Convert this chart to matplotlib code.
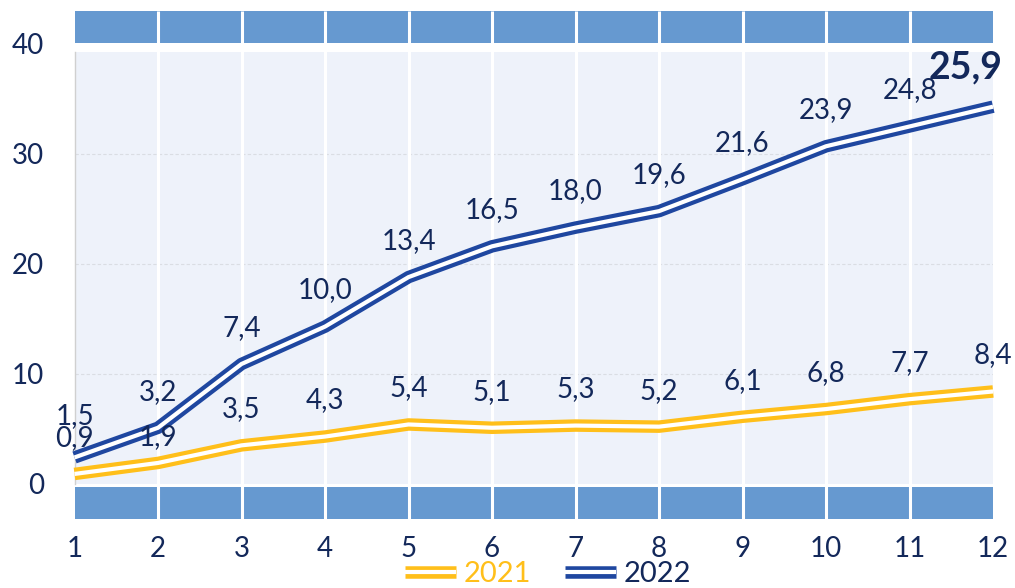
import matplotlib
matplotlib.use("Agg")
import matplotlib.pyplot as plt
import numpy as np
from matplotlib.legend_handler import HandlerTuple

plt.rcParams['font.family'] = ['Lato', 'DejaVu Sans']

# data
months = [1, 2, 3, 4, 5, 6, 7, 8, 9, 10, 11, 12]
v2021 = [0.9, 1.9, 3.5, 4.3, 5.4, 5.1, 5.3, 5.2, 6.1, 6.8, 7.7, 8.4]
v2022 = [1.5, 3.2, 7.4, 10.0, 13.4, 16.5, 18.0, 19.6, 21.6, 23.9, 24.8, 25.9]
yticks = [0, 10, 20, 30, 40]

# 2022 is stacked on top of 2021
stack2022 = np.add(v2021, v2022)

yellow = '#FFBF1A'
blue = '#1F47A0'
navy = '#13285A'
band = '#6699D0'
lav = '#EEF2FA'

fig = plt.figure(figsize=(10.15, 5.88), dpi=100)
ax = fig.add_axes([0.0734, 0.1173, 0.905, 0.864])
ax.set_xlim(1, 12)
ax.set_ylim(-3.2, 43)

ax.axhspan(0, 39.3, color=lav, lw=0, zorder=0)
ax.axhspan(40.1, 43, color=band, lw=0, zorder=1)
ax.axhspan(-3.2, -0.25, color=band, lw=0, zorder=1)
for y in yticks[1:-1]:
    ax.axhline(y, xmin=0, xmax=1, color='#DADDE3', lw=0.8, ls=(0, (3, 2)), zorder=1)
ax.vlines(months[1:-1], -3.2, 43, color='white', lw=2.2, zorder=2)
ax.plot([1, 1], [0, 39.3], color='#D0D0D0', lw=1, clip_on=False, zorder=2)

def double_line(x, y, col):
    a, = ax.plot(x, y, color=col, lw=9, solid_capstyle='butt', clip_on=False, zorder=3)
    b, = ax.plot(x, y, color='white', lw=3, solid_capstyle='butt', clip_on=False, zorder=4)
    return a, b

h21 = double_line(months, v2021, yellow)
h22 = double_line(months, stack2022, blue)

def fmt(v):
    return f"{v:.1f}".replace('.', ',')

nudge21 = {1: -7}
nudge22 = {0: 4}
for i, (m, v, y) in enumerate(zip(months, v2021, v2021)):
    ax.annotate(fmt(v), (m, y), xytext=(0, 26 + nudge21.get(i, 0)), textcoords='offset points',
                ha='center', va='center', fontsize=20, color=navy, zorder=5, annotation_clip=False)
for i, (m, v, y) in enumerate(zip(months, v2022, stack2022)):
    if i == len(months) - 1:
        ax.annotate(fmt(v), (m, y), xytext=(-20, 28), textcoords='offset points',
                    ha='center', va='center', fontsize=27, fontweight='bold', color=navy,
                    zorder=5, annotation_clip=False)
    else:
        ax.annotate(fmt(v), (m, y), xytext=(0, 26 + nudge22.get(i, 0)), textcoords='offset points',
                    ha='center', va='center', fontsize=20, color=navy, zorder=5, annotation_clip=False)

ax.set_xticks(months)
ax.set_yticks(yticks)
ax.tick_params(axis='both', length=0, labelsize=20, labelcolor=navy)
ax.tick_params(axis='y', pad=22)
ax.tick_params(axis='x', pad=12)
for s in ax.spines.values():
    s.set_visible(False)

leg = fig.legend([h21, h22], ['2021', '2022'], handler_map={tuple: HandlerTuple(ndivide=1)},
                 loc='center', bbox_to_anchor=(0.54, 0.024), ncol=2, frameon=False, fontsize=21,
                 handlelength=1.75, handletextpad=0.28, columnspacing=1.15, borderpad=0)
for t, c in zip(leg.get_texts(), [yellow, navy]):
    t.set_color(c)

fig.savefig('out.png', dpi=100)
